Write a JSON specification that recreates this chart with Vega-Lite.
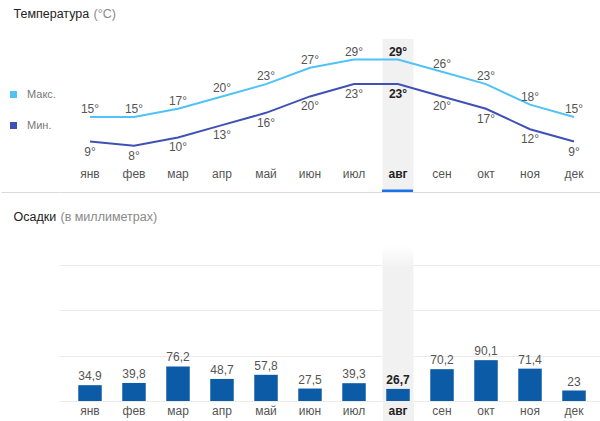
{
  "$schema": "https://vega.github.io/schema/vega-lite/v6.json",
  "padding": {"left": 0, "top": 7, "right": 0, "bottom": 0},
  "spacing": 2,
  "align": "none",
  "config": {
    "font": "Liberation Sans",
    "view": {"stroke": null},
    "locale": {"number": {"decimal": ",", "thousands": " ", "grouping": [3], "currency": ["", " ₽"]}}
  },
  "datasets": {
    "temp": [
      {"month": "янв", "series": "Макс.", "t": 15}, {"month": "фев", "series": "Макс.", "t": 15},
      {"month": "мар", "series": "Макс.", "t": 17}, {"month": "апр", "series": "Макс.", "t": 20},
      {"month": "май", "series": "Макс.", "t": 23}, {"month": "июн", "series": "Макс.", "t": 27},
      {"month": "июл", "series": "Макс.", "t": 29}, {"month": "авг", "series": "Макс.", "t": 29},
      {"month": "сен", "series": "Макс.", "t": 26}, {"month": "окт", "series": "Макс.", "t": 23},
      {"month": "ноя", "series": "Макс.", "t": 18}, {"month": "дек", "series": "Макс.", "t": 15},
      {"month": "янв", "series": "Мин.", "t": 9}, {"month": "фев", "series": "Мин.", "t": 8},
      {"month": "мар", "series": "Мин.", "t": 10}, {"month": "апр", "series": "Мин.", "t": 13},
      {"month": "май", "series": "Мин.", "t": 16}, {"month": "июн", "series": "Мин.", "t": 20},
      {"month": "июл", "series": "Мин.", "t": 23}, {"month": "авг", "series": "Мин.", "t": 23},
      {"month": "сен", "series": "Мин.", "t": 20}, {"month": "окт", "series": "Мин.", "t": 17},
      {"month": "ноя", "series": "Мин.", "t": 12}, {"month": "дек", "series": "Мин.", "t": 9}
    ],
    "rain": [
      {"month": "янв", "mm": 34.9}, {"month": "фев", "mm": 39.8}, {"month": "мар", "mm": 76.2},
      {"month": "апр", "mm": 48.7}, {"month": "май", "mm": 57.8}, {"month": "июн", "mm": 27.5},
      {"month": "июл", "mm": 39.3}, {"month": "авг", "mm": 26.7}, {"month": "сен", "mm": 70.2},
      {"month": "окт", "mm": 90.1}, {"month": "ноя", "mm": 71.4}, {"month": "дек", "mm": 23}
    ]
  },
  "vconcat": [
    {
      "width": 542,
      "height": 153,
      "data": {"name": "temp"},
      "transform": [{"calculate": "datum.t + '°'", "as": "label"}],
      "encoding": {
        "x": {
          "field": "month", "type": "nominal", "title": "Температура",
          "scale": {"domain": ["янв","фев","мар","апр","май","июн","июл","авг","сен","окт","ноя","дек"], "paddingInner": 0.2955, "paddingOuter": 0.3068, "align": 0.574},
          "axis": {
            "zindex": 1,
            "domain": true, "domainColor": "#dadada", "domainWidth": 1,
            "ticks": true, "tickSize": -3,
            "tickColor": {"condition": {"test": "datum.value === 'авг'", "value": "#1a73e8"}, "value": "transparent"},
            "tickWidth": {"condition": {"test": "datum.value === 'авг'", "value": 31}, "value": 1},
            "labelAngle": 0, "labelFontSize": 12, "labelBaseline": "top", "labelPadding": -21,
            "labelColor": {"condition": {"test": "datum.value === 'авг'", "value": "#222"}, "value": "#555"},
            "labelFontWeight": {"condition": {"test": "datum.value === 'авг'", "value": "bold"}, "value": "normal"},
            "grid": false,
            "titleX": -46, "titleY": -175, "titleAlign": "left", "titleAnchor": null, "titleBaseline": "alphabetic", "titleColor": "#222", "titleFontWeight": "normal", "titleFontSize": 12.5
          }
        }
      },
      "layer": [
        {
          "transform": [{"filter": "datum.month === 'авг' && datum.series === 'Макс.'"}],
          "mark": {"type": "bar", "color": "#f1f1f1"}
        },
        {
          "mark": {"type": "line", "strokeWidth": 2},
          "encoding": {
            "y": {
              "field": "t", "type": "quantitative", "title": "(°C)",
              "scale": {"domain": [-3.3, 34], "nice": false, "zero": false},
              "axis": {"values": [-3.3], "domain": false, "ticks": true, "tickSize": 58, "tickColor": "#dadada", "tickWidth": 1, "labels": false, "grid": false, "titleAngle": 0, "titleX": 34, "titleY": -22, "titleAlign": "left", "titleBaseline": "alphabetic", "titleColor": "#888", "titleFontWeight": "normal", "titleFontSize": 12.5}
            },
            "color": {
              "field": "series", "type": "nominal",
              "scale": {"domain": ["Макс.", "Мин."], "range": ["#4fc3f7", "#3f51b5"]},
              "legend": {"orient": "none", "legendX": -51, "legendY": 50, "title": null, "symbolType": "square", "symbolSize": 1, "symbolStrokeWidth": 6, "labelFontSize": 11, "labelColor": "#777", "labelOffset": 8, "rowPadding": 6, "direction": "vertical"}
            }
          }
        },
        {
          "transform": [{"filter": "datum.series === 'Макс.' && datum.month !== 'авг'"}],
          "mark": {"type": "text", "baseline": "alphabetic", "dy": -4, "fontSize": 12, "color": "#555"},
          "encoding": {"y": {"field": "t", "type": "quantitative", "title": "(°C)"}, "text": {"field": "label"}}
        },
        {
          "transform": [{"filter": "datum.series === 'Макс.' && datum.month === 'авг'"}],
          "mark": {"type": "text", "baseline": "alphabetic", "dy": -4, "fontSize": 12, "fontWeight": "bold", "color": "#222"},
          "encoding": {"y": {"field": "t", "type": "quantitative", "title": "(°C)"}, "text": {"field": "label"}}
        },
        {
          "transform": [{"filter": "datum.series === 'Мин.' && datum.month !== 'авг'"}],
          "mark": {"type": "text", "baseline": "alphabetic", "dy": 14, "fontSize": 12, "color": "#555"},
          "encoding": {"y": {"field": "t", "type": "quantitative", "title": "(°C)"}, "text": {"field": "label"}}
        },
        {
          "transform": [{"filter": "datum.series === 'Мин.' && datum.month === 'авг'"}],
          "mark": {"type": "text", "baseline": "alphabetic", "dy": 14, "fontSize": 12, "fontWeight": "bold", "color": "#222"},
          "encoding": {"y": {"field": "t", "type": "quantitative", "title": "(°C)"}, "text": {"field": "label"}}
        }
      ]
    },
    {
      "width": 542,
      "height": 155,
      "data": {"name": "rain"},
      "encoding": {
        "x": {
          "field": "month", "type": "nominal", "title": "Осадки",
          "scale": {"domain": ["янв","фев","мар","апр","май","июн","июл","авг","сен","окт","ноя","дек"], "paddingInner": 0.466, "paddingOuter": 0.392, "align": 0.558},
          "axis": {
            "domain": false,
            "ticks": true, "tickSize": 21,
            "tickColor": {"condition": {"test": "datum.value === 'авг'", "value": "#f1f1f1"}, "value": "transparent"},
            "tickWidth": {"condition": {"test": "datum.value === 'авг'", "value": 31}, "value": 1},
            "labelAngle": 0, "labelFontSize": 12, "labelBaseline": "top", "labelPadding": -17,
            "labelColor": {"condition": {"test": "datum.value === 'авг'", "value": "#222"}, "value": "#555"},
            "labelFontWeight": {"condition": {"test": "datum.value === 'авг'", "value": "bold"}, "value": "normal"},
            "grid": false,
            "titleX": -46, "titleY": -181, "titleAlign": "left", "titleAnchor": null, "titleBaseline": "alphabetic", "titleColor": "#222", "titleFontWeight": "normal", "titleFontSize": 12.5
          }
        }
      },
      "layer": [
        {
          "transform": [{"filter": "datum.month === 'авг'"}],
          "mark": {"type": "bar", "width": 31, "color": {"gradient": "linear", "x1": 0, "y1": 0, "x2": 0, "y2": 1, "stops": [{"offset": 0, "color": "#ffffff"}, {"offset": 0.14, "color": "#f1f1f1"}, {"offset": 1, "color": "#f1f1f1"}]}}
        },
        {
          "mark": {"type": "bar", "color": "#0b5ba6"},
          "encoding": {
            "y": {
              "field": "mm", "type": "quantitative", "title": "(в миллиметрах)",
              "scale": {"domain": [0, 342], "nice": false},
              "axis": {"values": [0, 100, 200, 300], "grid": true, "gridColor": "#ebebeb", "gridWidth": 1, "domain": false, "labels": false, "ticks": true, "tickSize": 58, "tickColor": "transparent", "titleAngle": 0, "titleX": 1, "titleY": -26, "titleAlign": "left", "titleBaseline": "alphabetic", "titleColor": "#888", "titleFontWeight": "normal", "titleFontSize": 12.5}
            }
          }
        },
        {
          "transform": [{"filter": "datum.month !== 'авг'"}],
          "mark": {"type": "text", "baseline": "alphabetic", "dy": -5, "fontSize": 12, "color": "#555"},
          "encoding": {"y": {"field": "mm", "type": "quantitative", "title": "(в миллиметрах)"}, "text": {"field": "mm", "type": "quantitative", "format": "~g"}}
        },
        {
          "transform": [{"filter": "datum.month === 'авг'"}],
          "mark": {"type": "text", "baseline": "alphabetic", "dy": -5, "fontSize": 12, "fontWeight": "bold", "color": "#222"},
          "encoding": {"y": {"field": "mm", "type": "quantitative", "title": "(в миллиметрах)"}, "text": {"field": "mm", "type": "quantitative", "format": "~g"}}
        }
      ]
    }
  ]
}
